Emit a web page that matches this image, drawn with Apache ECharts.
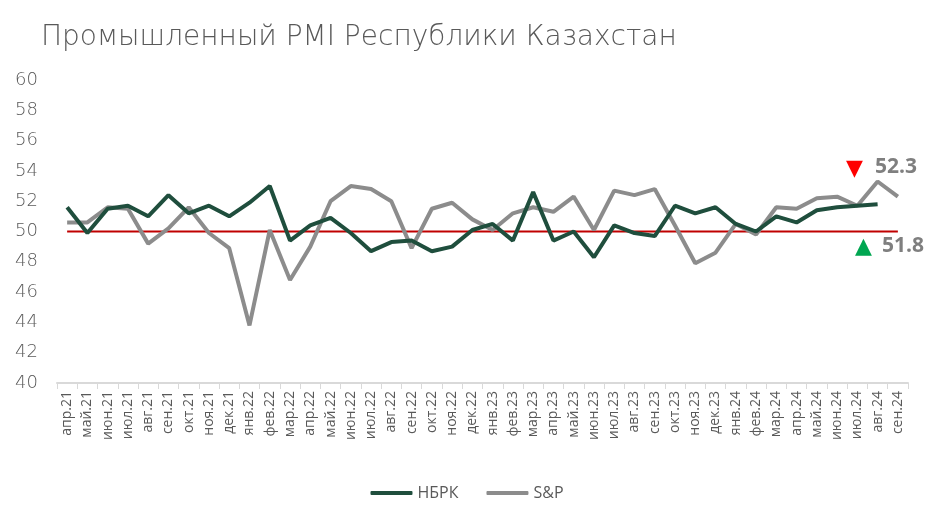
<!DOCTYPE html>
<html><head><meta charset="utf-8">
<script src="https://cdn.jsdelivr.net/npm/echarts@6/dist/echarts.min.js"></script>
<style>html,body{margin:0;padding:0;background:#fff}#c{width:934px;height:520px}</style>
</head><body><div id="c"></div>
<script>
const categories = ['апр.21','май.21','июн.21','июл.21','авг.21','сен.21','окт.21','ноя.21','дек.21',
 'янв.22','фев.22','мар.22','апр.22','май.22','июн.22','июл.22','авг.22','сен.22','окт.22','ноя.22','дек.22',
 'янв.23','фев.23','мар.23','апр.23','май.23','июн.23','июл.23','авг.23','сен.23','окт.23','ноя.23','дек.23',
 'янв.24','фев.24','мар.24','апр.24','май.24','июн.24','июл.24','авг.24','сен.24'];
const nbrk = [51.6,49.9,51.5,51.7,51.0,52.4,51.2,51.7,51.0,
 51.9,53.0,49.4,50.4,50.9,49.9,48.7,49.3,49.4,48.7,49.0,50.1,
 50.5,49.4,52.6,49.4,50.0,48.3,50.4,49.9,49.7,51.7,51.2,51.6,
 50.5,50.0,51.0,50.6,51.4,51.6,51.7,51.8,null];
const sp = [50.6,50.6,51.6,51.5,49.2,50.2,51.6,49.9,48.9,
 43.8,50.1,46.8,49.0,52.0,53.0,52.8,52.0,48.9,51.5,51.9,50.8,
 50.1,51.2,51.6,51.3,52.3,50.1,52.7,52.4,52.8,50.4,47.9,48.6,
 50.5,49.8,51.6,51.5,52.2,52.3,51.7,53.3,52.3];
const threshold = categories.map(() => 50);
const yTicks = {min: 40, max: 60, interval: 2};
const notes = [{text: '52.3', mark: '▼', color: '#ff0000'}, {text: '51.8', mark: '▲', color: '#00a651'}];

const FONT = '"Open Sans", sans-serif';
const WIDE = '"DejaVu Sans", sans-serif';
const chart = echarts.init(document.getElementById('c'), null, {renderer: 'canvas'});
chart.setOption({
  animation: false,
  backgroundColor: '#fff',
  title: {text: 'Промышленный PMI Республики Казахстан', left: 36, top: 19,
    textStyle: {fontFamily: WIDE, fontWeight: 200, fontSize: 28, color: '#595959'}},
  grid: {left: 57, right: 26, top: 80, bottom: 137},
  legend: {bottom: 14, left: 'center', itemWidth: 42, itemHeight: 4, itemGap: 28,
    data: ['НБРК', 'S&P'], icon: 'roundRect',
    textStyle: {fontFamily: FONT, fontSize: 16, color: '#595959'}},
  xAxis: {type: 'category', data: categories, boundaryGap: true,
    axisLine: {lineStyle: {color: '#d9d9d9', width: 2}},
    axisTick: {show: true, length: 6, lineStyle: {color: '#d9d9d9'}},
    axisLabel: {rotate: 90, interval: 0, fontFamily: FONT, fontSize: 14, color: '#595959', margin: 8}},
  yAxis: {type: 'value', min: yTicks.min, max: yTicks.max, interval: yTicks.interval,
    axisLine: {show: false}, axisTick: {show: false}, splitLine: {show: false},
    axisLabel: {fontFamily: WIDE, fontWeight: 200, fontSize: 18, color: '#595959', margin: 19, align: 'right'}},
  series: [
    {name: '50', type: 'line', data: threshold, symbol: 'none', lineStyle: {color: '#c00000', width: 2}, z: 1, silent: true},
    {name: 'НБРК', type: 'line', data: nbrk, symbol: 'none', itemStyle: {color: '#1f4e3d'},
      lineStyle: {color: '#1f4e3d', width: 4}, z: 3},
    {name: 'S&P', type: 'line', data: sp, symbol: 'none', itemStyle: {color: '#8c8c8c'},
      lineStyle: {color: '#8c8c8c', width: 4}, z: 2}
  ],
  graphic: [
    {type: 'text', left: 846, top: 158, style: {text: notes[0].mark, fill: notes[0].color, font: '22px "DejaVu Sans"'}},
    {type: 'text', left: 875, top: 157, style: {text: notes[0].text, fill: '#7f7f7f', font: 'bold 21px ' + FONT}},
    {type: 'text', left: 855, top: 236, style: {text: notes[1].mark, fill: notes[1].color, font: '22px "DejaVu Sans"'}},
    {type: 'text', left: 882, top: 236, style: {text: notes[1].text, fill: '#7f7f7f', font: 'bold 21px ' + FONT}}
  ]
});
</script></body></html>
